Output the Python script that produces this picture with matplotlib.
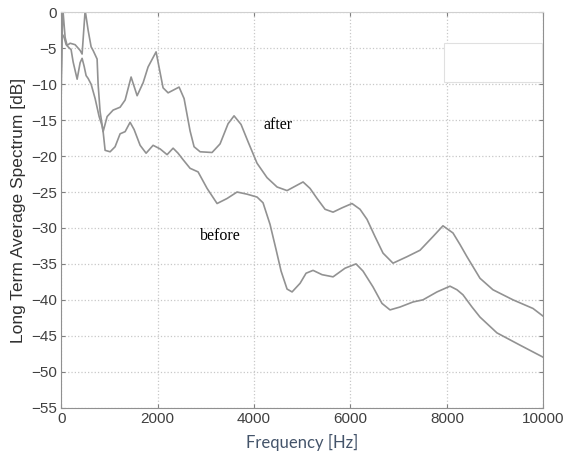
import numpy as np
import matplotlib
matplotlib.use("Agg")
import matplotlib.pyplot as plt
from matplotlib.patches import Rectangle

# spectrum (Hz, dB)
freq_after = [0, 35, 83, 124, 187, 290, 394, 435, 498, 560, 622, 663, 746, 767, 808, 871,
              954, 1078, 1223, 1327, 1451, 1576, 1700, 1803, 1969, 2114, 2218, 2446, 2550,
              2674, 2757, 2882, 3130, 3296, 3462, 3586, 3731, 3876, 4063, 4270, 4478, 4685,
              4851, 5017, 5162, 5307, 5473, 5639, 5825, 6032, 6198, 6343, 6509, 6675, 6882,
              7172, 7442, 7711, 7918, 8126, 8271, 8416, 8686, 8955, 9370, 9785, 10000]
db_after = [-9, 0.5, -3.5, -4.6, -4.3, -4.5, -5.3, -5.8, 0.3, -2.5, -4.8, -5.3, -6.5, -10,
            -13.8, -16.6, -14.5, -13.6, -13.2, -12.2, -9.0, -11.6, -9.8, -7.6, -5.5, -10.5,
            -11.2, -10.4, -12.0, -16.5, -18.7, -19.4, -19.5, -18.3, -15.5, -14.4, -15.6,
            -18.0, -21.0, -23.0, -24.3, -24.8, -24.2, -23.6, -24.5, -25.9, -27.4, -27.8,
            -27.2, -26.6, -27.4, -28.8, -31.2, -33.5, -34.9, -34.0, -33.1, -31.2, -29.7,
            -30.7, -32.3, -34.0, -37.0, -38.6, -40.0, -41.2, -42.3]

freq_before = [0, 21, 62, 104, 145, 207, 249, 332, 394, 435, 477, 518, 560, 622, 705, 788,
               850, 871, 912, 1016, 1119, 1223, 1327, 1430, 1513, 1638, 1762, 1907, 2052,
               2197, 2322, 2425, 2529, 2674, 2840, 3027, 3234, 3441, 3648, 3856, 4063, 4187,
               4332, 4457, 4561, 4685, 4789, 4955, 5079, 5224, 5411, 5639, 5887, 6115, 6260,
               6467, 6654, 6820, 7027, 7296, 7504, 7794, 8064, 8209, 8333, 8520, 8686, 9038,
               9515, 10000]
db_before = [-12, -3, -3.5, -4.5, -4.8, -5.2, -6.9, -9.3, -7.0, -6.4, -7.5, -8.8, -9.2,
             -10.0, -12.0, -14.5, -15.8, -16.6, -19.2, -19.4, -18.7, -16.9, -16.6, -15.3,
             -16.3, -18.5, -19.6, -18.5, -19.0, -19.8, -18.9, -19.6, -20.5, -21.7, -22.2,
             -24.5, -26.6, -25.9, -25.0, -25.3, -25.7, -26.5, -29.5, -33.0, -36.0, -38.5,
             -38.9, -37.7, -36.3, -35.9, -36.5, -36.8, -35.6, -35.0, -36.0, -38.2, -40.5,
             -41.4, -41.0, -40.3, -40.0, -38.9, -38.1, -38.6, -39.3, -41.0, -42.4, -44.6,
             -46.3, -48.0]

plt.rcParams["font.family"] = "Liberation Sans"

fig = plt.figure(figsize=(5.66, 4.57), dpi=100)
ax = fig.add_axes([0.108, 0.108, 0.852, 0.865])

ax.plot(freq_after, db_after, color="#929292", lw=1.2)
ax.plot(freq_before, db_before, color="#929292", lw=1.2)

ax.set_xlim(0, 10000)
ax.set_ylim(-55, 0)
ax.set_xticks(np.arange(0, 10001, 2000))
ax.set_yticks(np.arange(-55, 1, 5))
ax.grid(True, ls=":", color="#c8c8c8", lw=0.9)
ax.tick_params(direction="in", top=True, right=True, colors="#808080",
               labelcolor="#404040", labelsize=11, length=3, pad=3)
for s in ax.spines.values():
    s.set_color("#909090")
ax.spines["top"].set_color("#d0d0d0")

# empty legend box in the upper right
ax.add_patch(Rectangle((0.794, 0.825), 0.203, 0.098, transform=ax.transAxes,
                       facecolor="white", edgecolor="#e0e0e0", lw=0.8, zorder=3))

ax.text(4200, -16.3, "after", family="Liberation Serif", fontsize=11.5, color="black")
ax.text(2880, -31.7, "before", family="Liberation Serif", fontsize=11.5, color="black")

ax.set_ylabel("Long Term Average Spectrum [dB]", fontsize=12.5, color="#303030", labelpad=4)
ax.set_xlabel("Frequency [Hz]", family="Lato", fontsize=12, color="#44546a", labelpad=6)

fig.savefig("out.png", dpi=100)
